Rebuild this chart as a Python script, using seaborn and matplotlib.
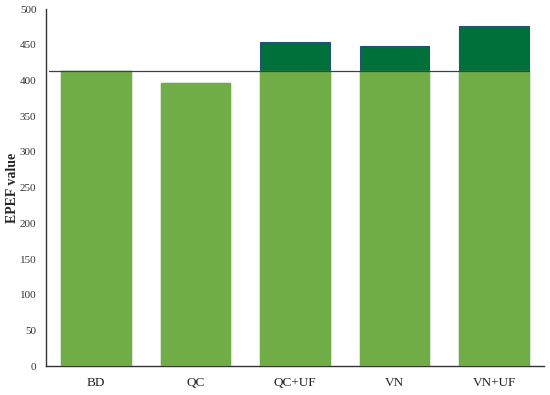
import matplotlib.pyplot as plt
import numpy as np
import pandas as pd
import seaborn as sns

# data
groups = ['BD', 'QC', 'QC+UF', 'VN', 'VN+UF']
base = [413, 396, 413, 413, 413]
total = [413, 396, 454, 449, 476]
ref_line = 413

df = pd.DataFrame({'group': groups, 'base': base, 'total': total})

sns.set_style('white')
plt.rcParams['font.family'] = ['Liberation Serif', 'DejaVu Serif']

fig = plt.figure(figsize=(5.5, 3.95), dpi=100)
ax = fig.add_axes([0.084, 0.073, 0.905, 0.904])

# dark top part (increase over BD), then the base part on top of it
sns.barplot(data=df, x='group', y='total', color='#00703A', saturation=1,
            width=0.7, edgecolor='#24527A', linewidth=0.8, ax=ax, zorder=2)
sns.barplot(data=df, x='group', y='base', color='#70AD47', saturation=1,
            width=0.7, edgecolor='#70AD47', linewidth=1.0, ax=ax, zorder=3)

ax.axhline(ref_line, xmin=0.005, xmax=0.97, color='#404040', lw=0.9, zorder=4)

ax.set_xlim(-0.5, 4.5)
ax.set_ylim(0, 500)
ax.set_yticks(np.arange(0, 501, 50))
ax.set_xlabel('')
ax.set_ylabel('EPEF value', fontsize=10, fontweight='bold')
ax.yaxis.set_label_coords(-0.054, 0.5)
ax.tick_params(axis='y', labelsize=8, length=0, pad=7, colors='#333333')
ax.tick_params(axis='x', labelsize=9.5, length=0, pad=8, colors='#222222')

for s in ['top', 'right']:
    ax.spines[s].set_visible(False)
for s in ['left', 'bottom']:
    ax.spines[s].set_color('#333333')
    ax.spines[s].set_linewidth(1.0)

fig.savefig('out.png', dpi=100)
